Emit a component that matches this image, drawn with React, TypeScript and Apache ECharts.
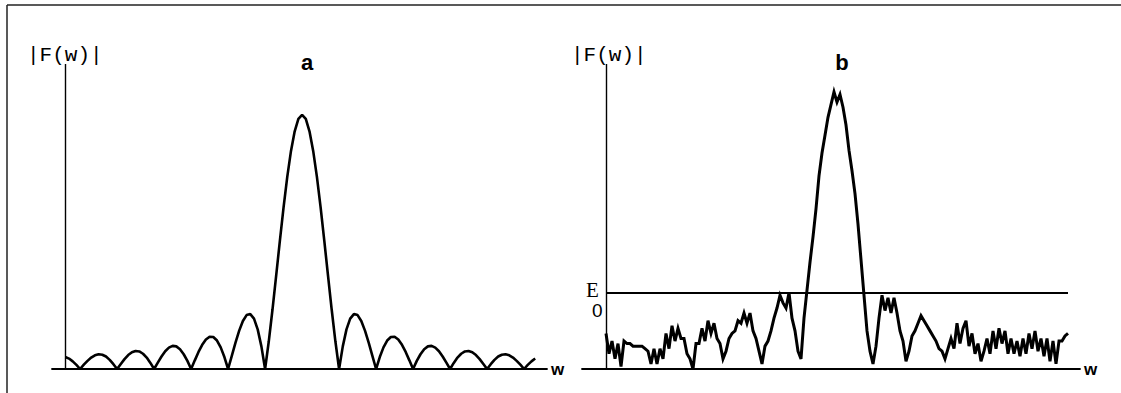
import React, { useEffect, useRef } from "react";
import * as echarts from "echarts";

// Panel a: |F(w)| sampled from w = -6.4 to 6.3 in steps of 0.1 (zeros at integer w)
const A_W_START = -6.4;
const A_W_STEP = 0.1;
const A_VALUES = [
  0.047, 0.041, 0.030, 0.016, 0,
  0.017, 0.032, 0.045, 0.054, 0.058, 0.056, 0.049, 0.036, 0.019, 0,
  0.020, 0.039, 0.055, 0.066, 0.071, 0.069, 0.060, 0.045, 0.024, 0,
  0.025, 0.049, 0.070, 0.084, 0.091, 0.089, 0.078, 0.058, 0.032, 0,
  0.034, 0.067, 0.095, 0.116, 0.127, 0.126, 0.112, 0.085, 0.047, 0,
  0.052, 0.104, 0.151, 0.189, 0.212, 0.216, 0.198, 0.156, 0.089, 0,
  0.109, 0.234, 0.368, 0.505, 0.637, 0.757, 0.858, 0.935, 0.984, 1.000,
  0.984, 0.935, 0.858, 0.757, 0.637, 0.505, 0.368, 0.234, 0.109, 0,
  0.089, 0.156, 0.198, 0.216, 0.212, 0.189, 0.151, 0.104, 0.052, 0,
  0.047, 0.085, 0.112, 0.126, 0.127, 0.116, 0.095, 0.067, 0.034, 0,
  0.032, 0.058, 0.078, 0.089, 0.091, 0.084, 0.070, 0.049, 0.025, 0,
  0.024, 0.045, 0.060, 0.069, 0.071, 0.066, 0.055, 0.039, 0.020, 0,
  0.019, 0.036, 0.049, 0.056, 0.058, 0.054, 0.045, 0.032, 0.017, 0,
  0.016, 0.030, 0.041,
];
const A_W_MIN = -6.76;
const A_W_MAX = 6.62;
const A_AXIS_W = -6.4;

// Panel b: noisy |F(w)| sampled at sample index 0..154
const B_VALUES = [
  0.14, 0.06, 0.11, 0.04, 0.10, 0.01, 0.11, 0.10, 0.10, 0.09, 0.09, 0.09, 0.09, 0.08,
  0.07, 0.02, 0.08, 0.02, 0.08, 0.04, 0.14, 0.08, 0.17, 0.11, 0.16, 0.12, 0.12, 0.06, 0.04, 0.00,
  0.10, 0.10, 0.16, 0.11, 0.19, 0.14, 0.18, 0.12, 0.10, 0.04, 0.07,
  0.12, 0.14, 0.15, 0.19, 0.18, 0.22, 0.18, 0.22, 0.15, 0.12, 0.07, 0.02,
  0.09, 0.11, 0.15, 0.20, 0.24, 0.29, 0.26, 0.24, 0.30, 0.20, 0.15, 0.07, 0.04,
  0.20, 0.31, 0.42, 0.52, 0.63, 0.76, 0.85, 0.92, 0.99, 1.04, 1.09, 1.05, 1.08, 1.03,
  0.96, 0.86, 0.78, 0.69, 0.57, 0.43, 0.29, 0.15, 0.07, 0.02,
  0.09, 0.20, 0.29, 0.23, 0.28, 0.22, 0.28, 0.22, 0.15, 0.11, 0.03,
  0.07, 0.13, 0.15, 0.18, 0.21, 0.19, 0.17, 0.15, 0.13, 0.11, 0.08, 0.07, 0.04,
  0.08, 0.12, 0.08, 0.18, 0.10, 0.16, 0.19, 0.09, 0.14, 0.06, 0.10, 0.03,
  0.07, 0.12, 0.06, 0.15, 0.08, 0.16, 0.10, 0.15, 0.06, 0.12, 0.06, 0.11, 0.05, 0.12,
  0.06, 0.14, 0.08, 0.15, 0.07, 0.12, 0.05, 0.12, 0.03, 0.11, 0.02, 0.11, 0.11, 0.13, 0.14,
];
const B_W_MIN = -8;
const B_W_MAX = 158;
const B_E0 = 0.30;

const Y_MAX = 1.2;

const Y_LABEL = "|F(w)|";
const PANEL_LABELS = ["a", "b"];
const X_LABEL = "w";
const E_LABEL = "E";
const E_SUB = "0";

export default function App() {
  const ref = useRef<HTMLDivElement>(null);

  useEffect(() => {
    if (!ref.current) return;
    const chart = echarts.init(ref.current, null, { renderer: "svg" });

    const aData = A_VALUES.map((v, i) => [
      Math.round((A_W_START + i * A_W_STEP) * 100) / 100,
      v,
    ]);
    const bData = B_VALUES.map((v, i) => [i, v]);
    const bLast = B_VALUES.length - 1;

    const axisName = {
      name: X_LABEL,
      nameLocation: "end" as const,
      nameGap: 4,
      nameTextStyle: {
        fontFamily: "Liberation Sans",
        fontSize: 17,
        fontWeight: "bold" as const,
        color: "#000",
        verticalAlign: "middle" as const,
        padding: [3, 0, 0, 0],
      },
    };
    const baseX = {
      type: "value" as const,
      axisLine: { show: true, onZero: false, lineStyle: { color: "#000", width: 1.8 } },
      axisTick: { show: false },
      axisLabel: { show: false },
      splitLine: { show: false },
      ...axisName,
    };
    const baseY = {
      type: "value" as const,
      min: 0,
      max: Y_MAX,
      show: false,
      splitLine: { show: false },
    };

    const text = (
      t: string,
      x: number,
      y: number,
      size: number,
      family: string,
      weight: string,
      align: string
    ) => ({
      type: "text",
      x,
      y,
      silent: true,
      style: {
        text: t,
        fontFamily: family,
        fontSize: size,
        fontWeight: weight,
        fill: "#000",
        align,
        verticalAlign: "middle",
      },
    });

    chart.setOption({
      animation: false,
      backgroundColor: "#fff",
      grid: [
        { left: 52, right: 574, top: 64, bottom: 24 },
        { left: 582, right: 41, top: 64, bottom: 24 },
      ],
      xAxis: [
        { ...baseX, gridIndex: 0, min: A_W_MIN, max: A_W_MAX },
        { ...baseX, gridIndex: 1, min: B_W_MIN, max: B_W_MAX },
      ],
      yAxis: [
        { ...baseY, gridIndex: 0 },
        { ...baseY, gridIndex: 1 },
      ],
      series: [
        {
          type: "line",
          xAxisIndex: 0,
          yAxisIndex: 0,
          data: aData,
          showSymbol: false,
          silent: true,
          lineStyle: { color: "#000", width: 2.6 },
          markLine: {
            silent: true,
            symbol: ["none", "none"],
            label: { show: false },
            lineStyle: { color: "#000", width: 1.4, type: "solid" },
            data: [[{ coord: [A_AXIS_W, 0] }, { coord: [A_AXIS_W, Y_MAX] }]],
          },
        },
        {
          type: "line",
          xAxisIndex: 1,
          yAxisIndex: 1,
          data: bData,
          showSymbol: false,
          silent: true,
          lineStyle: { color: "#000", width: 3, join: "miter", miterLimit: 4 },
          markLine: {
            silent: true,
            symbol: ["none", "none"],
            label: { show: false },
            lineStyle: { color: "#000", width: 1.4, type: "solid" },
            data: [
              [{ coord: [0, 0] }, { coord: [0, Y_MAX] }],
              [
                { coord: [0, B_E0], lineStyle: { color: "#000", width: 2.2, type: "solid" } },
                { coord: [bLast, B_E0] },
              ],
            ],
          },
        },
      ],
      graphic: [
        {
          type: "line",
          silent: true,
          shape: { x1: 7, y1: 5, x2: 1121, y2: 5 },
          style: { stroke: "#222", lineWidth: 1.5 },
        },
        {
          type: "line",
          silent: true,
          shape: { x1: 7, y1: 5, x2: 7, y2: 393 },
          style: { stroke: "#222", lineWidth: 1.5 },
        },
        text(Y_LABEL, 27, 55, 21, "Liberation Mono", "normal", "left"),
        text(Y_LABEL, 571, 55, 21, "Liberation Mono", "normal", "left"),
        text(PANEL_LABELS[0], 307, 62, 22, "Liberation Sans", "bold", "center"),
        text(PANEL_LABELS[1], 842, 62, 22, "Liberation Sans", "bold", "center"),
        text(E_LABEL, 586, 290, 21, "Liberation Serif", "normal", "left"),
        text(E_SUB, 592, 310, 19, "Liberation Sans", "normal", "left"),
      ],
    });

    return () => chart.dispose();
  }, []);

  return (
    <div
      ref={ref}
      style={{ position: "fixed", left: 0, top: 0, width: 1121, height: 393, background: "#fff" }}
    />
  );
}
